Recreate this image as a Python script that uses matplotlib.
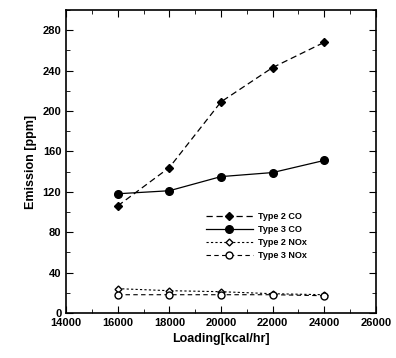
import matplotlib
matplotlib.use("Agg")
import matplotlib.pyplot as plt
from matplotlib.ticker import MultipleLocator

plt.rcParams['font.family'] = ['Liberation Sans', 'DejaVu Sans']

# loading values and measured emissions
loading = [16000, 18000, 20000, 22000, 24000]
type2_co = [106, 144, 209, 243, 268]
type3_co = [118, 121, 135, 139, 151]
type2_nox = [24, 22, 21, 19, 18]
type3_nox = [18, 18, 18, 18, 17]

fig = plt.figure(figsize=(3.96, 3.58), dpi=100)
ax = fig.add_axes([0.167, 0.126, 0.782, 0.846])

ax.plot(loading, type2_co, color='black', linestyle=(0, (5, 3)), lw=0.9,
        marker='D', markersize=4, markerfacecolor='black', label='Type 2 CO')
ax.plot(loading, type3_co, color='black', linestyle='-', lw=0.9,
        marker='o', markersize=5.5, markerfacecolor='black', label='Type 3 CO')
ax.plot(loading, type2_nox, color='black', linestyle=(0, (2, 2)), lw=0.8,
        marker='D', markersize=3.5, markerfacecolor='white', label='Type 2 NOx')
ax.plot(loading, type3_nox, color='black', linestyle=(0, (4, 3)), lw=0.8,
        marker='o', markersize=5, markerfacecolor='white', label='Type 3 NOx')

ax.set_xlim(14000, 26000)
ax.set_ylim(0, 300)
ax.xaxis.set_major_locator(MultipleLocator(2000))
ax.xaxis.set_minor_locator(MultipleLocator(1000))
ax.yaxis.set_major_locator(MultipleLocator(40))
ax.yaxis.set_minor_locator(MultipleLocator(20))
ax.tick_params(which='both', direction='in', top=True, right=True)
ax.tick_params(which='major', length=5, labelsize=8)
ax.tick_params(which='minor', length=3)
for lab in ax.get_xticklabels() + ax.get_yticklabels():
    lab.set_fontweight('bold')
for s in ax.spines.values():
    s.set_linewidth(1.2)

ax.set_xlabel('Loading[kcal/hr]', fontsize=9, fontweight='bold')
ax.set_ylabel('Emission [ppm]', fontsize=9, fontweight='bold')

leg = ax.legend(loc='upper left', bbox_to_anchor=(0.44, 0.345), frameon=False,
                prop={'size': 6.5, 'weight': 'bold'}, handlelength=5.2,
                handletextpad=0.6, labelspacing=0.45, borderaxespad=0)

fig.savefig('out.png', dpi=100)
